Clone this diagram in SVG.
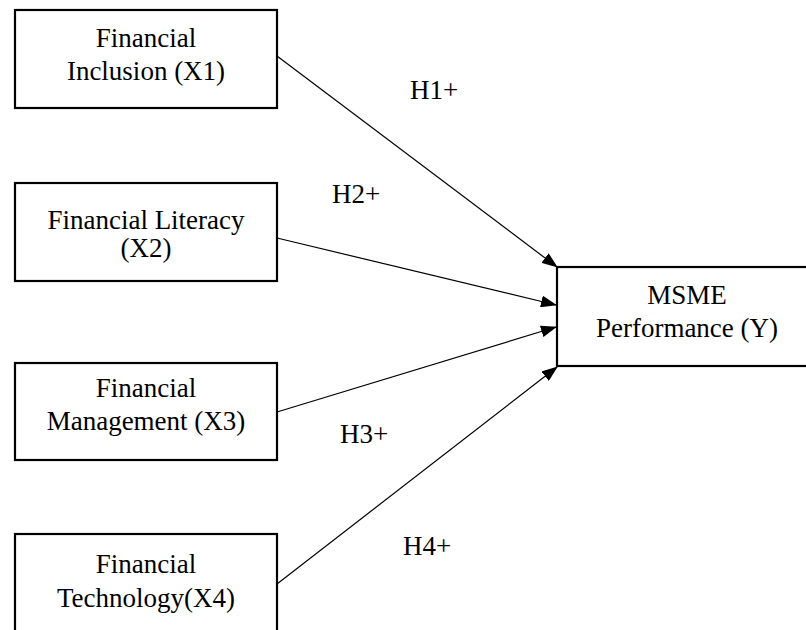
<svg xmlns="http://www.w3.org/2000/svg" width="806" height="630" viewBox="0 0 806 630">
<style>
.box{fill:#fff;stroke:#000;stroke-width:2.2}
.t{font-family:"Liberation Serif","Times New Roman",serif;font-size:27px;fill:#000;text-anchor:middle}
.h{font-family:"Liberation Serif","Times New Roman",serif;font-size:27px;fill:#000}
.c{stroke:#000;stroke-width:1.2;fill:none;marker-end:url(#ah)}
</style>
<defs>
<marker id="ah" markerUnits="userSpaceOnUse" markerWidth="16" markerHeight="12" refX="15" refY="6" orient="auto" viewBox="0 0 16 12">
<path d="M0,0 L16,6 L0,12 Z" fill="#000"/>
</marker>
</defs>
<rect width="806" height="630" fill="#fff"/>
<g id="connectors">
<line class="c" x1="277" y1="56" x2="557" y2="267"/>
<line class="c" x1="277" y1="238" x2="556" y2="305"/>
<line class="c" x1="277" y1="412" x2="556" y2="327"/>
<line class="c" x1="277" y1="584" x2="557" y2="367"/>
</g>
<g id="labels">
<text class="h" x="410" y="99">H1+</text>
<text class="h" x="332" y="203">H2+</text>
<text class="h" x="340" y="443">H3+</text>
<text class="h" x="403" y="555">H4+</text>
</g>
<g id="x1">
<rect class="box" x="15" y="10" width="262" height="98"/>
<text class="t" x="146" y="47">Financial</text>
<text class="t" x="146" y="80">Inclusion (X1)</text>
</g>
<g id="x2">
<rect class="box" x="15" y="183" width="262" height="98"/>
<text class="t" x="146" y="229">Financial Literacy</text>
<text class="t" x="146" y="257">(X2)</text>
</g>
<g id="x3">
<rect class="box" x="15" y="363" width="262" height="97"/>
<text class="t" x="146" y="397">Financial</text>
<text class="t" x="146" y="430">Management (X3)</text>
</g>
<g id="x4">
<rect class="box" x="15" y="534" width="262" height="110"/>
<text class="t" x="146" y="573">Financial</text>
<text class="t" x="146" y="607">Technology(X4)</text>
</g>
<g id="y">
<rect class="box" x="557" y="267" width="260" height="99"/>
<text class="t" x="687" y="304">MSME</text>
<text class="t" x="687" y="337">Performance (Y)</text>
</g>
</svg>
